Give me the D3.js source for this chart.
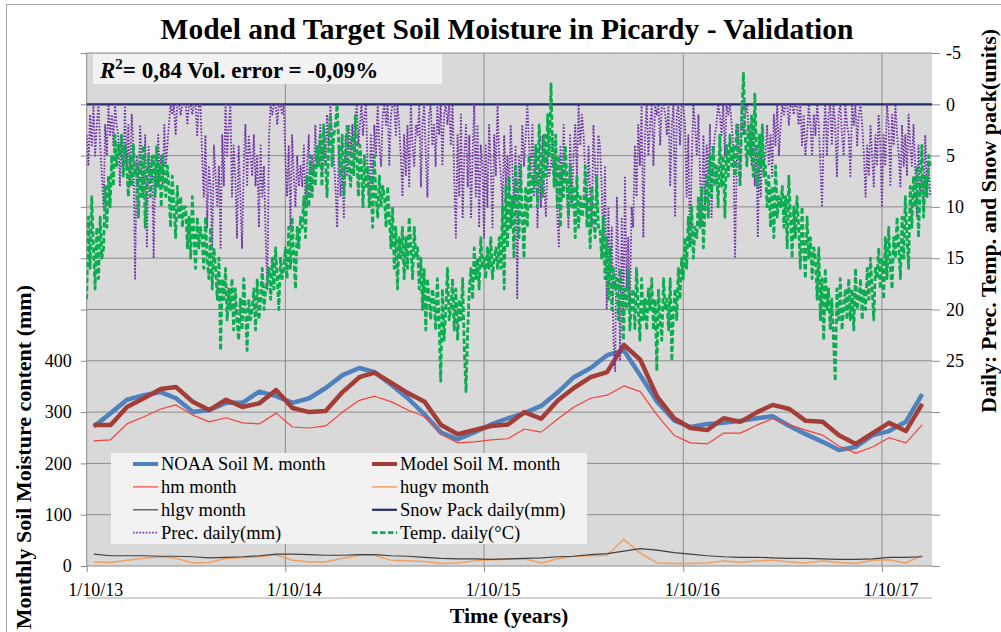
<!DOCTYPE html>
<html>
<head>
<meta charset="utf-8">
<script src="https://cdn.jsdelivr.net/npm/d3@7"></script>
<style>
body { margin: 0; background: #fff; }
text { font-family: "Liberation Serif", "Times New Roman", serif; fill: #000; }
</style>
</head>
<body>
<svg id="chart" width="1001" height="632"></svg>
<script>
// monthly values (mm), Oct 2013 .. Dec 2017, one per month
var noaaMonth = [272, 298, 324, 333, 339, 327, 300, 304, 318, 318,
    340, 331, 318, 327, 347, 372, 386, 378, 353, 327,
    295, 260, 247, 261, 276, 288, 298, 312, 339, 368,
    386, 411, 420, 372, 320, 284, 271, 277, 279, 283,
    288, 292, 273, 257, 242, 226, 232, 255, 263, 281, 335];
var modelMonth = [275, 275, 310, 327, 345, 349, 320, 304, 324, 310,
    317, 343, 308, 300, 302, 339, 368, 377, 357, 337,
    320, 275, 257, 265, 273, 276, 300, 287, 323, 347,
    368, 378, 431, 402, 330, 288, 269, 265, 288, 281,
    300, 314, 306, 283, 281, 255, 238, 259, 279, 263, 316];
var hmMonth = [244, 246, 277, 291, 306, 314, 294, 281, 289, 279,
    277, 298, 271, 269, 273, 300, 323, 331, 320, 304,
    291, 257, 240, 242, 246, 248, 267, 261, 287, 310,
    327, 333, 351, 340, 294, 255, 240, 238, 259, 259,
    275, 287, 275, 265, 255, 234, 220, 232, 250, 240, 275];
var hugvMonth = [8, 7, 11, 15, 18, 15, 6, 7, 15, 16,
    18, 22, 11, 8, 8, 15, 21, 21, 11, 10,
    9, 5, 6, 10, 12, 13, 14, 6, 14, 19,
    20, 21, 52, 25, 6, 5, 5, 6, 10, 7,
    10, 11, 8, 6, 10, 7, 5, 11, 12, 6, 21];
var hlgvMonth = [23, 20, 20, 20, 19, 19, 18, 16, 17, 18,
    20, 23, 23, 22, 21, 21, 22, 22, 20, 19,
    17, 15, 14, 14, 13, 14, 15, 16, 18, 19,
    22, 24, 29, 34, 31, 26, 23, 20, 18, 17,
    17, 16, 15, 15, 14, 13, 13, 14, 17, 17, 18];

// daily series, ~10 readings per calendar month
var precByMonth = [
    [3, 6, 1, 4, 0, 5, 2, 0, 4, 7], [10, 2, 5, 0, 3, 1, 4, 0, 2, 3],
    [8, 3, 7, 0, 6, 2, 8, 1, 4, 17], [5, 8, 2, 6, 9, 3, 14, 4, 7, 5],
    [15, 6, 8, 3, 7, 5, 8, 2, 6, 4], [2, 0, 1, 0, 3, 0, 0, 1, 0, 0],
    [0, 2, 0, 0, 1, 0, 0, 3, 0, 0], [5, 9, 3, 12, 6, 8, 14, 4, 7, 10],
    [6, 14, 3, 8, 0, 5, 2, 0, 9, 4], [7, 13, 4, 9, 14, 6, 2, 8, 3, 5],
    [7, 3, 8, 5, 12, 4, 9, 6, 13, 18], [3, 0, 1, 0, 0, 2, 0, 0, 1, 0],
    [5, 9, 4, 12, 3, 7, 10, 5, 8, 6], [8, 4, 10, 6, 3, 9, 5, 7, 2, 6],
    [5, 2, 7, 3, 6, 1, 4, 0, 3, 5], [8, 12, 4, 9, 6, 11, 3, 7, 2, 5],
    [2, 5, 1, 0, 4, 2, 0, 3, 1, 0], [6, 10, 3, 8, 2, 5, 0, 4, 6, 1],
    [0, 2, 0, 6, 1, 0, 0, 3, 0, 2], [5, 9, 3, 7, 2, 8, 0, 4, 6, 2],
    [3, 0, 8, 2, 0, 5, 9, 1, 0, 4], [2, 6, 0, 3, 0, 6, 1, 0, 2, 0],
    [4, 0, 7, 13, 3, 9, 1, 11, 5, 2], [8, 3, 11, 5, 0, 9, 2, 12, 4, 6],
    [13, 4, 10, 2, 6, 12, 3, 7, 0, 5], [7, 10, 3, 8, 5, 9, 2, 6, 10, 4],
    [19, 5, 8, 2, 6, 3, 0, 4, 7, 2], [9, 4, 12, 6, 10, 3, 8, 11, 5, 7],
    [6, 3, 8, 5, 11, 14, 4, 9, 2, 6], [8, 12, 3, 10, 5, 2, 7, 0, 4, 1],
    [3, 7, 11, 4, 9, 12, 2, 6, 10, 3], [4, 8, 14, 6, 20, 10, 17, 12, 23, 26],
    [9, 15, 25, 11, 21, 7, 18, 13, 20, 10], [12, 4, 9, 2, 6, 0, 13, 3, 0, 5],
    [2, 0, 6, 0, 1, 0, 4, 0, 0, 1], [3, 0, 8, 2, 0, 11, 1, 0, 4, 0],
    [0, 2, 9, 3, 14, 6, 0, 2, 5, 1], [7, 12, 3, 10, 4, 8, 2, 11, 5, 3],
    [2, 0, 1, 3, 0, 5, 0, 1, 0, 2], [4, 15, 6, 2, 8, 0, 3, 1, 0, 2],
    [3, 6, 2, 8, 4, 13, 5, 9, 3, 6], [5, 2, 6, 3, 7, 1, 4, 0, 5, 2],
    [0, 1, 0, 0, 2, 0, 0, 1, 0, 0], [2, 0, 4, 1, 5, 3, 0, 2, 5, 1],
    [3, 0, 2, 6, 10, 3, 0, 5, 1, 0], [4, 0, 2, 7, 1, 0, 3, 5, 0, 2],
    [3, 7, 0, 2, 0, 4, 1, 0, 2, 5], [9, 4, 7, 2, 5, 8, 3, 6, 1, 4],
    [10, 3, 6, 0, 2, 8, 1, 4, 0, 3], [5, 8, 2, 6, 3, 7, 1, 4, 6, 2],
    [6, 11, 4, 9, 7, 10, 3, 8, 6, 9]
];
var tempByMonth = [
    [19, 11, 16, 9, 14, 18, 12, 17, 11, 15], [14, 8, 12, 7, 10, 5, 8, 3, 6, 4],
    [5, 3, 7, 4, 6, 9, 5, 8, 4, 7], [6, 11, 5, 9, 4, 12, 7, 5, 9, 6],
    [5, 9, 4, 8, 6, 10, 5, 7, 9, 6], [8, 12, 7, 10, 13, 8, 11, 9, 12, 10],
    [10, 14, 11, 15, 9, 13, 16, 11, 14, 12], [13, 16, 11, 15, 17, 12, 18, 14, 16, 19],
    [15, 24, 17, 19, 16, 21, 18, 20, 17, 22], [18, 21, 23, 19, 22, 17, 20, 24, 19, 21],
    [20, 18, 22, 17, 21, 19, 16, 20, 18, 17], [16, 19, 15, 18, 14, 17, 20, 15, 17, 16],
    [14, 17, 12, 16, 11, 15, 18, 12, 14, 11], [12, 9, 13, 7, 10, 5, 9, 6, 8, 4],
    [6, 3, 8, 2, 5, 9, 4, 1, 6, 3], [2, 0, 4, 7, 3, 9, 5, 2, 6, 8],
    [3, 7, 1, 5, 9, 4, 6, 10, 5, 8], [6, 10, 7, 12, 5, 9, 11, 7, 10, 8],
    [9, 12, 8, 11, 14, 10, 16, 12, 18, 13], [15, 12, 17, 13, 16, 11, 14, 17, 12, 15],
    [14, 18, 15, 20, 16, 22, 17, 19, 21, 18], [19, 22, 17, 21, 27, 18, 23, 20, 16, 21],
    [20, 17, 22, 18, 23, 19, 21, 17, 24, 28], [22, 18, 16, 19, 14, 17, 15, 18, 13, 16],
    [15, 17, 14, 16, 13, 17, 15, 14, 16, 13], [16, 10, 18, 8, 14, 7, 12, 9, 15, 6],
    [9, 13, 6, 11, 15, 8, 12, 5, 10, 7], [8, 4, 10, 2, 6, 9, 3, 7, 1, 5],
    [-2, 4, 8, 3, 10, 5, 12, 6, 9, 4], [7, 11, 6, 10, 8, 13, 7, 12, 9, 11],
    [10, 6, 12, 9, 14, 8, 11, 13, 7, 12], [12, 15, 11, 17, 13, 19, 14, 20, 16, 18],
    [17, 21, 16, 19, 23, 18, 20, 16, 22, 19], [18, 22, 16, 20, 23, 17, 21, 19, 22, 18],
    [20, 17, 22, 19, 26, 18, 21, 23, 17, 20], [19, 22, 17, 25, 20, 18, 21, 16, 19, 15],
    [17, 13, 16, 11, 14, 10, 15, 12, 13, 9], [12, 8, 14, 10, 7, 11, 5, 9, 4, 8],
    [6, 10, 3, 8, 5, 11, 4, 7, 3, 6], [4, 7, 2, 5, 8, 1, -3, 3, 6, 2],
    [5, 1, 7, -1, 4, 8, 3, 6, 2, 7], [6, 10, 7, 12, 8, 13, 6, 11, 9, 10],
    [8, 12, 9, 14, 7, 11, 15, 10, 13, 9], [12, 16, 10, 14, 17, 11, 15, 13, 17, 14],
    [15, 19, 14, 21, 17, 23, 16, 20, 18, 22], [19, 23, 27, 18, 21, 17, 22, 20, 18, 21],
    [17, 21, 18, 22, 16, 20, 19, 17, 21, 18], [20, 16, 19, 15, 18, 21, 16, 17, 14, 18],
    [15, 19, 13, 17, 12, 16, 18, 13, 15, 11], [14, 17, 11, 15, 9, 13, 16, 8, 12, 7],
    [10, 6, 13, 8, 4, 11, 7, 9, 5, 6]
];
var snowPack = [0, 0]; // flat zero at start and end of the period

var yearTicks = ["2013-10-01", "2014-10-01", "2015-10-01", "2016-10-01", "2017-10-01"];
var leftTicks = [0, 100, 200, 300, 400, 500, 600, 700, 800, 900, 1000];
var rightTicks = [-5, 0, 5, 10, 15, 20, 25, 30, 35, 40, 45];

var svg = d3.select('#chart');
var L = 86.7, R = 932, T = 53, B = 566;

var x = d3.scaleTime().domain([new Date(2013, 9, 1), new Date(2018, 0, 1)]).range([L, R]);
var yL = d3.scaleLinear().domain([0, 1000]).range([B, T]);
var yR = d3.scaleLinear().domain([-5, 45]).range([T, B]);

// frame
svg.append('rect').attr('x', 6.5).attr('y', 4.5).attr('width', 1010).attr('height', 660)
    .attr('fill', '#fff').attr('stroke', '#a6a6a6');

svg.append('rect').attr('x', L).attr('y', T).attr('width', R - L).attr('height', B - T)
    .attr('fill', '#d9d9d9');

svg.append('defs').append('clipPath').attr('id', 'plot')
    .append('rect').attr('x', L).attr('y', T - 8).attr('width', R - L).attr('height', B - T + 8);

// axes + grid
var gl = svg.append('g').attr('transform', 'translate(' + L + ',0)')
    .call(d3.axisLeft(yL).tickValues(leftTicks).tickSize(6).tickPadding(9)
        .tickFormat(function(d) { return d <= 400 ? d : ''; }));
var gr = svg.append('g').attr('transform', 'translate(' + R + ',0)')
    .call(d3.axisRight(yR).tickValues(rightTicks).tickSize(8).tickPadding(6)
        .tickFormat(function(d) { return d <= 25 ? d : ''; }));
var gx = svg.append('g').attr('transform', 'translate(0,' + B + ')')
    .call(d3.axisBottom(x).tickValues(yearTicks.map(function(s) { return new Date(s + 'T00:00'); }))
        .tickSize(6).tickPadding(11).tickFormat(d3.timeFormat('%-d/%-m/%y')));
[gl, gr, gx].forEach(function(g) {
    g.select('.domain').remove();
    g.selectAll('line').attr('stroke', '#8c8c8c');
    g.selectAll('text').attr('font-size', 18).attr('font-family', '"Liberation Serif", serif');
});
gx.selectAll('text').attr('dx', 8.5);

svg.append('g').selectAll('line').data(leftTicks).enter().append('line')
    .attr('x1', L).attr('x2', R).attr('y1', yL).attr('y2', yL)
    .attr('stroke', '#8c8c8c').attr('stroke-width', 1);
svg.append('g').selectAll('line').data(yearTicks).enter().append('line')
    .attr('x1', function(s) { return x(new Date(s + 'T00:00')); })
    .attr('x2', function(s) { return x(new Date(s + 'T00:00')); })
    .attr('y1', T).attr('y2', B).attr('stroke', '#8c8c8c');
svg.append('line').attr('x1', L).attr('x2', R).attr('y1', 598).attr('y2', 598)
    .attr('stroke', '#a6a6a6');

// data prep
function monthly(arr) {
    return arr.map(function(v, i) { return { date: new Date(2013, 9 + i, 14), v: v }; });
}
function daily(chunks) {
    var out = [];
    chunks.forEach(function(c, i) {
        var s = new Date(2013, 9 + i, 1), e = new Date(2013, 10 + i, 1);
        c.forEach(function(v, k) {
            out.push({ date: new Date(+s + (e - s) * k / c.length), v: v });
        });
    });
    return out;
}

var lineL = d3.line().x(function(d) { return x(d.date); }).y(function(d) { return yL(d.v); });
var lineR = d3.line().x(function(d) { return x(d.date); }).y(function(d) { return yR(d.v); });

var plot = svg.append('g').attr('clip-path', 'url(#plot)');
var series = [
    { data: monthly(noaaMonth), line: lineL, color: '#4f81bd', w: 4.5, dash: null },
    { data: monthly(modelMonth), line: lineL, color: '#a33d37', w: 4.5, dash: null },
    { data: monthly(hmMonth), line: lineL, color: '#f2433b', w: 1.2, dash: null },
    { data: monthly(hugvMonth), line: lineL, color: '#f0a060', w: 1.5, dash: null },
    { data: monthly(hlgvMonth), line: lineL, color: '#404040', w: 1.2, dash: null },
    { data: [{ date: x.domain()[0], v: snowPack[0] }, { date: x.domain()[1], v: snowPack[1] }],
        line: lineR, color: '#1f2f6b', w: 2.2, dash: null },
    { data: daily(precByMonth), line: lineR, color: '#7030a8', w: 1.8, dash: '1.6,1.6' },
    { data: daily(tempByMonth), line: lineR, color: '#0aad4f', w: 2.8, dash: '5.5,2.5' }
];
series.forEach(function(s) {
    plot.append('path').datum(s.data).attr('d', s.line)
        .attr('fill', 'none').attr('stroke', s.color).attr('stroke-width', s.w)
        .attr('stroke-linejoin', 'round').attr('stroke-dasharray', s.dash);
});

// annotation box
svg.append('rect').attr('x', 93).attr('y', 54).attr('width', 349).attr('height', 30).attr('fill', '#f2f2f2');
var ann = svg.append('text').attr('x', 100).attr('y', 78).attr('font-size', 23).attr('font-weight', 'bold');
ann.append('tspan').attr('font-style', 'italic').text('R');
ann.append('tspan').attr('dy', -9).attr('font-size', 15).text('2');
ann.append('tspan').attr('dy', 9).text('= 0,84 Vol. error = -0,09%');

// legend
var legendItems = [
    ['NOAA Soil M. month', 0], ['Model Soil M. month', 1],
    ['hm month', 2], ['hugv month', 3],
    ['hlgv month', 4], ['Snow Pack daily(mm)', 5],
    ['Prec. daily(mm)', 6], ['Temp. daily(\u00b0C)', 7]
];
svg.append('rect').attr('x', 111).attr('y', 453).attr('width', 476).attr('height', 91).attr('fill', '#f2f2f2');
var lg = svg.append('g').selectAll('g').data(legendItems).enter().append('g')
    .attr('transform', function(d, i) {
        return 'translate(' + (i % 2 ? 372 : 133) + ',' + (464 + Math.floor(i / 2) * 22.9) + ')';
    });
lg.append('line').attr('x1', 0).attr('x2', 25)
    .attr('stroke', function(d) { return series[d[1]].color; })
    .attr('stroke-width', function(d) { return Math.min(series[d[1]].w, 4); })
    .attr('stroke-dasharray', function(d) { return series[d[1]].dash; });
lg.append('text').attr('x', 28).attr('y', 6).attr('font-size', 18.5).text(function(d) { return d[0]; });

// titles
svg.append('text').attr('x', 507).attr('y', 39).attr('text-anchor', 'middle')
    .attr('font-size', 29.5).attr('font-weight', 'bold')
    .text('Model and Target Soil Moisture in Picardy - Validation');
svg.append('text').attr('x', 509).attr('y', 623).attr('text-anchor', 'middle')
    .attr('font-size', 22).attr('font-weight', 'bold').text('Time (years)');
svg.append('text').attr('transform', 'translate(31,285) rotate(-90)').attr('text-anchor', 'end')
    .attr('font-size', 22).attr('font-weight', 'bold').text('Monthly Soil Moisture content (mm)');
svg.append('text').attr('transform', 'translate(996,413) rotate(-90)').attr('text-anchor', 'start')
    .attr('font-size', 22).attr('font-weight', 'bold').text('Daily: Prec. Temp. and Snow pack(units)');
</script>
</body>
</html>
